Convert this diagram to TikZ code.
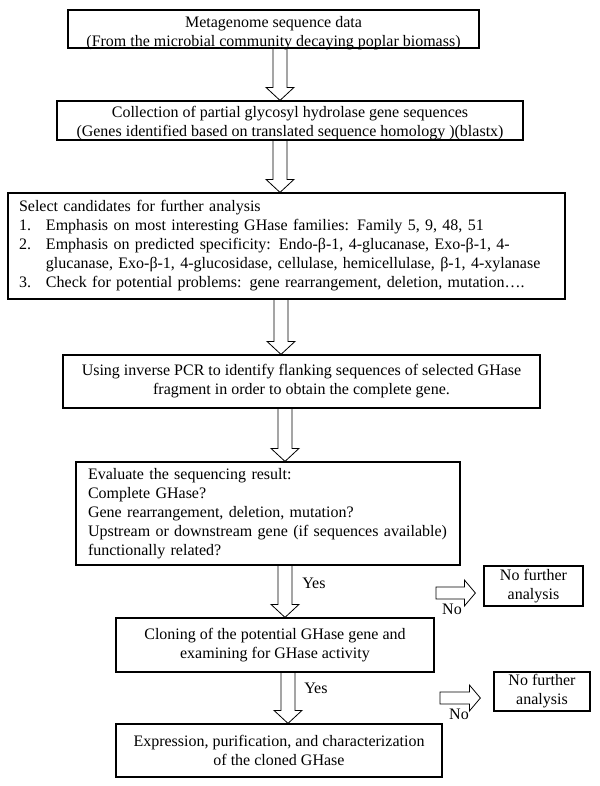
\documentclass[tikz,border=0pt]{standalone}
\usepackage{fontspec}
\setmainfont{Liberation Serif}
\usetikzlibrary{calc}
\tikzset{
  txt/.style={font=\fontsize{12}{14.25}\selectfont},
  box/.style={draw, line width=0.9pt, inner sep=0pt, align=center, txt},
  lbox/.style={draw, line width=0.9pt, inner ysep=0pt, align=left, txt},
  blockarrow/.style={draw, line width=0.6pt, line join=miter},
  lbl/.style={txt, inner sep=0pt},
}
% text lowered inside its box, keeping the box size
\newcommand\lowered[2]{\raisebox{-#1\dimexpr0.75pt\relax}[\height][\depth]{\begin{tabular}{@{}c@{}}#2\end{tabular}}}
% vertical hollow block arrow from node #1 (south) to node #2 (north) at x = #3
\newcommand\downblock[3]{%
  \draw[blockarrow] let \p1=(#1.south), \p2=(#2.north), \p3=(#3,0) in
   (\x3-5.25pt,\y1) -- (\x3-5.25pt,\y2+9.75pt) -- (\x3-10.5pt,\y2+9.75pt) -- (\x3,\y2)
   -- (\x3+10.5pt,\y2+9.75pt) -- (\x3+5.25pt,\y2+9.75pt) -- (\x3+5.25pt,\y1);}
% horizontal hollow block arrow from coordinate #1 towards node #2, stopping #3 short
\newcommand\rightblock[3]{%
  \draw[blockarrow] let \p1=(#1), \p2=(#2.west) in
   (\x1,\y1+4.5pt) -- (\x2-#3-8.25pt,\y1+4.5pt) -- (\x2-#3-8.25pt,\y1+9.75pt) -- (\x2-#3,\y1)
   -- (\x2-#3-8.25pt,\y1-9.75pt) -- (\x2-#3-8.25pt,\y1-4.5pt) -- (\x1,\y1-4.5pt) -- cycle;}

\begin{document}
\begin{tikzpicture}[x=0.75pt,y=-0.75pt]
\useasboundingbox (0,0) rectangle (600,786);

\node[box, minimum width=411*0.75pt, minimum height=38*0.75pt] (b1) at (273.5,29)
  {\lowered{4}{Metagenome sequence data\\(From the microbial community decaying poplar biomass)}};

\node[box, minimum width=466*0.75pt, minimum height=39*0.75pt] (b2) at (290,120.5)
  {\lowered{3}{Collection of partial glycosyl hydrolase gene sequences\\(Genes identified based on translated sequence homology )(blastx)}};

\node[lbox, inner xsep=11*0.75pt, text width=535*0.75pt, minimum height=106*0.75pt] (b3) at (286.5,246)
  {Select candidates for further analysis\\
   \makebox[27\dimexpr 0.75pt\relax][l]{1.}Emphasis on most interesting GHase families: Family 5, 9, 48, 51\\
   \makebox[27\dimexpr 0.75pt\relax][l]{2.}Emphasis on predicted specificity: Endo-β-1, 4-glucanase, Exo-β-1, 4-\\
   \hspace*{27\dimexpr 0.75pt\relax}glucanase, Exo-β-1, 4-glucosidase, cellulase, hemicellulase, β-1, 4-xylanase\\
   \makebox[27\dimexpr 0.75pt\relax][l]{3.}Check for potential problems: gene rearrangement, deletion, mutation….};

\node[box, minimum width=477*0.75pt, minimum height=53*0.75pt] (b4) at (301.5,381.5)
  {Using inverse PCR to identify flanking sequences of selected GHase\\fragment in order to obtain the complete gene.};

\node[lbox, inner xsep=12*0.75pt, text width=360*0.75pt, minimum height=103*0.75pt] (b5) at (268,513.5)
  {Evaluate the sequencing result:\\
   Complete GHase?\\
   Gene rearrangement, deletion, mutation?\\
   Upstream or downstream gene (if sequences available)\\
   functionally related?};

\node[box, minimum width=318*0.75pt, minimum height=54*0.75pt] (b6) at (275,645)
  {Cloning of the potential GHase gene and\\examining for GHase activity};

\node[box, minimum width=326*0.75pt, minimum height=53*0.75pt] (b7) at (279,750.5)
  {Expression, purification, and characterization\\of the cloned GHase};

\node[box, minimum width=99*0.75pt, minimum height=40*0.75pt] (n1) at (533.5,586)
  {No further\\analysis};
\node[box, minimum width=96*0.75pt, minimum height=39*0.75pt] (n2) at (542,691.5)
  {No further\\analysis};

\downblock{b1}{b2}{280}
\downblock{b2}{b3}{280}
\downblock{b3}{b4}{281}
\downblock{b4}{b5}{285}
\downblock{b5}{b6}{285}
\downblock{b6}{b7}{288}

\coordinate (s1) at (436,593);
\coordinate (s2) at (440,698);
\rightblock{s1}{n1}{6pt}
\rightblock{s2}{n2}{9.75pt}

\node[lbl, anchor=west] (y1) at (302,583) {Yes};
\node[lbl, anchor=west] (y2) at (304,688) {Yes};
\node[lbl] (no1) at (452,609) {No};
\node[lbl] (no2) at (459,714) {No};
\end{tikzpicture}
\end{document}
